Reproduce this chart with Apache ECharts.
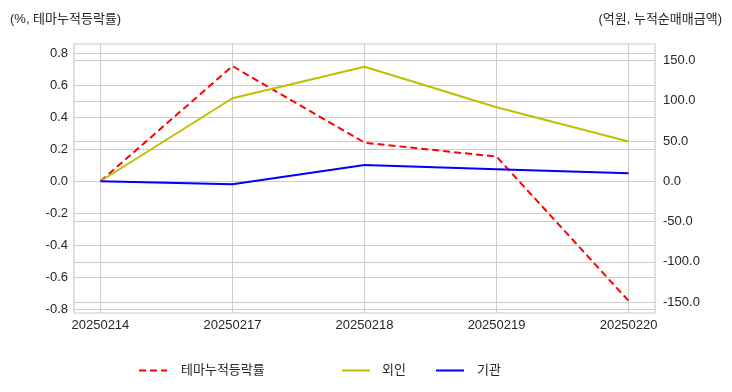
<!DOCTYPE html>
<html><head><meta charset="utf-8">
<script src="https://cdn.jsdelivr.net/npm/echarts@6/dist/echarts.min.js"></script>
<style>html,body{margin:0;padding:0;background:#fff}#c{width:732px;height:392px}</style>
</head><body><div id="c"></div>
<script>
const categories = ['20250214','20250217','20250218','20250219','20250220'];
const themeReturn = [0.0, 0.719, 0.241, 0.154, -0.746];
const foreign = [0.0, 103.1, 142.3, 91.9, 49.3];
const institution = [0.0, -3.6, 20.3, 15.0, 10.0];
const leftTicks = [-0.8,-0.6,-0.4,-0.2,0,0.2,0.4,0.6,0.8];
const rightTicks = [-150,-100,-50,0,50,100,150];
const xTicks = categories.map((c,i)=>i);
const seriesNames = ['테마누적등락률','외인','기관'];

const FONT = '"Liberation Sans","Noto Sans CJK KR",sans-serif';
const txt = '#262626';
const pts = arr => arr.map((v,i)=>[i,v]);
const legendLeft = [138, 341, 435];
const legendPad = [9, 7, 8];

const chart = echarts.init(document.getElementById('c'));
chart.setOption({
  animation:false,
  textStyle:{fontFamily:FONT},
  title:[
    {text:'(%, 테마누적등락률)', left:5, top:8, textStyle:{fontSize:13, fontWeight:'normal', color:txt, fontFamily:FONT}},
    {text:'(억원, 누적순매매금액)', right:5, top:8, textStyle:{fontSize:13, fontWeight:'normal', color:txt, fontFamily:FONT}}
  ],
  grid:{left:74, right:77, top:44, bottom:79, show:true, borderColor:'#cccccc', borderWidth:1.2, backgroundColor:'#fff'},
  legend:seriesNames.map((n,i)=>({
    left:legendLeft[i], top:364, padding:0, itemWidth:28, itemHeight:14, itemGap:0,
    itemStyle:{opacity:0}, data:[n],
    textStyle:{fontSize:13, color:txt, padding:[0,0,0,legendPad[i]]}
  })),
  xAxis:{type:'value', min:-0.2, max:4.2,
    axisLine:{show:false},
    axisTick:{show:false, customValues:xTicks},
    splitLine:{show:true, lineStyle:{color:'#cccccc', width:1}},
    axisLabel:{margin:6, fontSize:13, color:txt, customValues:xTicks,
      formatter:v=>categories[Math.round(v)]||''}},
  yAxis:[
    {type:'value', min:-0.822, max:0.857, position:'left',
      axisLine:{show:false},
      axisTick:{show:false, customValues:leftTicks},
      splitLine:{show:true, lineStyle:{color:'#cccccc', width:1}},
      axisLabel:{margin:6, fontSize:13, color:txt, customValues:leftTicks, formatter:v=>v.toFixed(1)}},
    {type:'value', min:-163.6, max:170.5, position:'right',
      axisLine:{show:false},
      axisTick:{show:false, customValues:rightTicks},
      splitLine:{show:true, lineStyle:{color:'#cccccc', width:1}},
      axisLabel:{margin:8, fontSize:13, color:txt, customValues:rightTicks, formatter:v=>v.toFixed(1)}}
  ],
  series:[
    {name:seriesNames[0], type:'line', yAxisIndex:0, data:pts(themeReturn), symbol:'none',
      itemStyle:{color:'#ff0000'}, lineStyle:{color:'#ff0000', width:2, type:[7,4]}},
    {name:seriesNames[1], type:'line', yAxisIndex:1, data:pts(foreign), symbol:'none',
      itemStyle:{color:'#bfbf00'}, lineStyle:{color:'#bfbf00', width:2}},
    {name:seriesNames[2], type:'line', yAxisIndex:1, data:pts(institution), symbol:'none',
      itemStyle:{color:'#0000ff'}, lineStyle:{color:'#0000ff', width:2}}
  ]
});
</script></body></html>
